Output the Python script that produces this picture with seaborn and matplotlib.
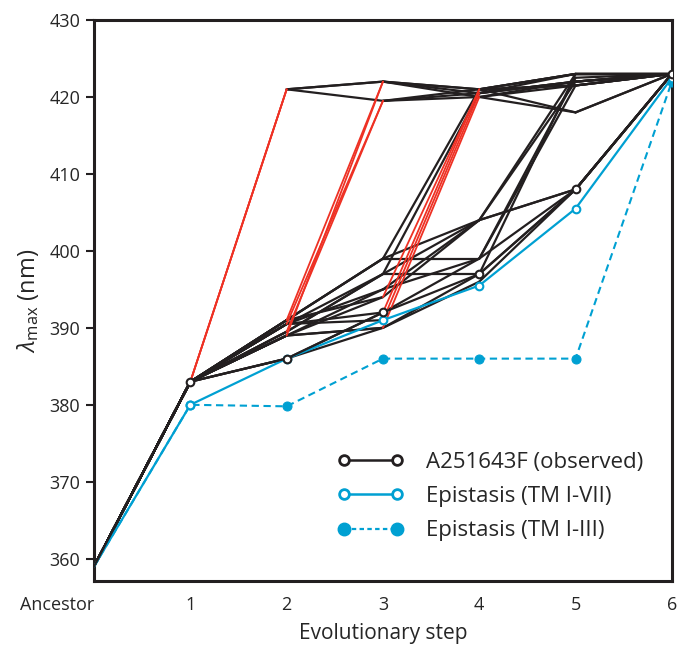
import matplotlib
matplotlib.use("Agg")
import numpy as np
import pandas as pd
import matplotlib.pyplot as plt
import seaborn as sns
from matplotlib.lines import Line2D

# evolutionary steps and tick labels
steps = [0, 1, 2, 3, 4, 5, 6]
step_labels = ["Ancestor", "1", "2", "3", "4", "5", "6"]

# lambda max (nm) along the mutational trajectories
trajectories = [
    [359, 383, 421, 422, 421, 423, 423],
    [359, 383, 421, 419.5, 420.5, 422, 423],
    [359, 383, 421, 422, 420, 421.5, 423],
    [359, 383, 391, 422, 420.5, 423, 423],
    [359, 383, 390.5, 419.5, 421, 418, 423],
    [359, 383, 389.5, 419.5, 420, 422, 423],
    [359, 383, 389, 422, 421, 421.5, 423],
    [359, 383, 386, 392, 421, 423, 423],
    [359, 383, 390.5, 391, 420.5, 422, 423],
    [359, 383, 389, 390, 420, 418, 423],
    [359, 383, 391, 394, 421, 421.5, 423],
    [359, 383, 391, 399, 421, 423, 423],
    [359, 383, 390.5, 397, 420.5, 422, 423],
    [359, 383, 391, 399, 404, 423, 423],
    [359, 383, 389.5, 397, 404, 422, 423],
    [359, 383, 390.5, 395, 404, 408, 423],
    [359, 383, 389, 394, 404, 408, 423],
    [359, 383, 391, 399, 399, 421.5, 423],
    [359, 383, 389.5, 397, 397, 408, 423],
    [359, 383, 386, 390, 396, 408, 423],
    [359, 383, 389, 395, 399, 408, 423],
    [359, 383, 390.5, 392, 399, 422.5, 423],
    [359, 383, 389, 390, 397, 423, 423],
]
# step at which the trajectory takes the large red jump (0 = none)
red_jump_into = [2, 2, 2, 3, 3, 3, 3, 4, 4, 4, 4,
                 0, 0, 0, 0, 0, 0, 0, 0, 0, 0, 0, 0]

observed = [359, 383, 386, 392, 397, 408, 423]
epistasis_tm7 = [359, 380, 386, 391, 395.5, 405.5, 422.5]
epistasis_tm3 = [359, 380, 379.8, 386, 386, 386, 422]

BLUE = "#00a0d2"
RED = "#ee3124"
INK = "#231f20"

# one row per segment end point
rows = []
for i, (path, red) in enumerate(zip(trajectories, red_jump_into)):
    for k in range(len(steps) - 1):
        kind = "red" if k + 1 == red else "black"
        for j in (k, k + 1):
            rows.append({"seg": f"{i}-{k}", "step": steps[j],
                         "lmax": path[j], "kind": kind})
segs = pd.DataFrame(rows)

sns.set_theme(style="ticks")
plt.rcParams["font.family"] = ["Open Sans", "DejaVu Sans"]
plt.rcParams["mathtext.fontset"] = "custom"
plt.rcParams["mathtext.rm"] = "Open Sans"
plt.rcParams["mathtext.it"] = "Open Sans:italic"

fig = plt.figure(figsize=(6.79, 6.47), dpi=100)
ax = fig.add_axes([0.1385, 0.102, 0.851, 0.867])

sns.lineplot(data=segs[segs.kind == "black"], x="step", y="lmax", units="seg",
             estimator=None, color=INK, lw=1.6, ax=ax, zorder=2)
sns.lineplot(data=segs[segs.kind == "red"], x="step", y="lmax", units="seg",
             estimator=None, color=RED, lw=1.3, ax=ax, zorder=3)

marks = list(range(1, len(steps)))
sns.lineplot(x=steps, y=epistasis_tm3, color=BLUE, lw=1.5, ls=(0, (3.5, 2.2)),
             marker="o", markersize=6.5, markerfacecolor=BLUE,
             markeredgecolor=BLUE, markevery=marks, ax=ax, zorder=4)
sns.lineplot(x=steps, y=epistasis_tm7, color=BLUE, lw=1.6, marker="o",
             markersize=5.5, markerfacecolor="white", markeredgecolor=BLUE,
             markeredgewidth=1.5, markevery=marks, ax=ax, zorder=5)
sns.lineplot(x=steps, y=observed, color=INK, lw=1.6, marker="o",
             markersize=5.5, markerfacecolor="white", markeredgecolor=INK,
             markeredgewidth=1.5, markevery=marks, ax=ax, zorder=6)

ax.set_xlim(0, 6)
ax.set_ylim(357.1, 430)
ax.set_yticks(np.arange(360, 431, 10))
ax.set_xticks(steps)
ax.set_xticklabels(step_labels, fontsize=13)
ax.get_xticklabels()[0].set_ha("right")
ax.tick_params(axis="x", length=0, pad=11)
ax.tick_params(axis="y", length=6, width=1.5, labelsize=13, pad=4,
               color=INK)
for s in ax.spines.values():
    s.set_linewidth(2.2)
    s.set_color(INK)
ax.set_xlabel("Evolutionary step", fontsize=15, labelpad=6)
ax.set_ylabel(r"$\lambda_{\mathrm{max}}$ (nm)", fontsize=17, labelpad=6)

handles = [
    Line2D([], [], color=INK, lw=1.8, marker="o", markersize=7,
           markerfacecolor="white", markeredgewidth=2),
    Line2D([], [], color=BLUE, lw=1.8, marker="o", markersize=7,
           markerfacecolor="white", markeredgecolor=BLUE, markeredgewidth=2),
    Line2D([], [], color=BLUE, lw=1.6, ls=(0, (2, 1.5)), marker="o",
           markersize=9, markerfacecolor=BLUE, markeredgecolor=BLUE),
]
ax.legend(handles, ["A251643F (observed)", "Epistasis (TM I-VII)",
                    "Epistasis (TM I-III)"],
          loc="lower right", bbox_to_anchor=(0.985, 0.035), frameon=False,
          fontsize=16, numpoints=2, handlelength=3.0, handletextpad=1.0,
          labelspacing=0.6)

fig.savefig("out.png", dpi=100)
